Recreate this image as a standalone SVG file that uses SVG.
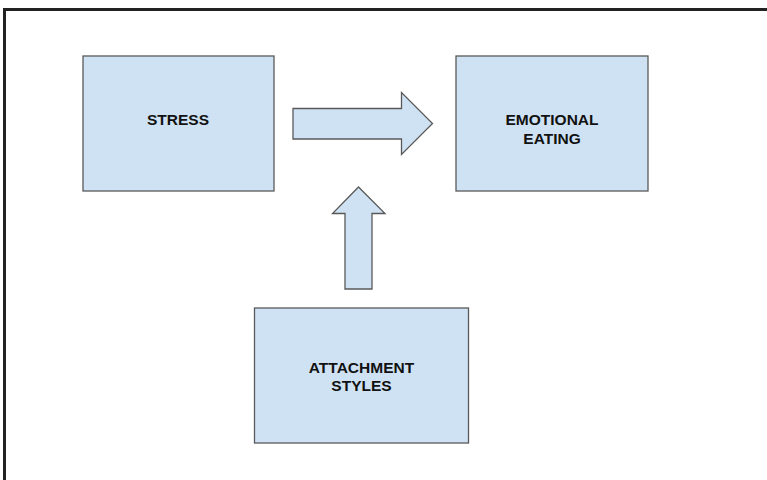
<svg xmlns="http://www.w3.org/2000/svg" width="767" height="480" viewBox="0 0 767 480">
<style>
.box{fill:#cfe2f3;stroke:#595959;stroke-width:1.3}
.arrow{fill:#cfe2f3;stroke:#595959;stroke-width:1.3;stroke-linejoin:miter}
.lbl{font-family:"Liberation Sans",Arial,sans-serif;font-weight:bold;font-size:15.5px;fill:#111;text-anchor:middle}
</style>
<rect x="0" y="0" width="767" height="480" fill="#ffffff"/>
<path d="M4.5 480 V9.5 H767" fill="none" stroke="#222222" stroke-width="3"/>
<g id="connectors">
<polygon class="arrow" points="293,108.5 401.5,108.5 401.5,92.5 432.5,123.5 401.5,154.5 401.5,139 293,139"/>
<polygon class="arrow" points="345,289 345,213.5 332.5,213.5 358.5,187 385,213.5 372,213.5 372,289"/>
</g>
<g id="stress">
<rect class="box" x="83" y="56" width="191" height="135"/>
<text class="lbl" x="178" y="125">STRESS</text>
</g>
<g id="emotional-eating">
<rect class="box" x="456" y="56" width="192" height="135"/>
<text class="lbl" x="552" y="125">EMOTIONAL</text>
<text class="lbl" x="552" y="143.5">EATING</text>
</g>
<g id="attachment-styles">
<rect class="box" x="254.5" y="308" width="214" height="135"/>
<text class="lbl" x="361.5" y="372.5">ATTACHMENT</text>
<text class="lbl" x="361.5" y="391">STYLES</text>
</g>
</svg>
